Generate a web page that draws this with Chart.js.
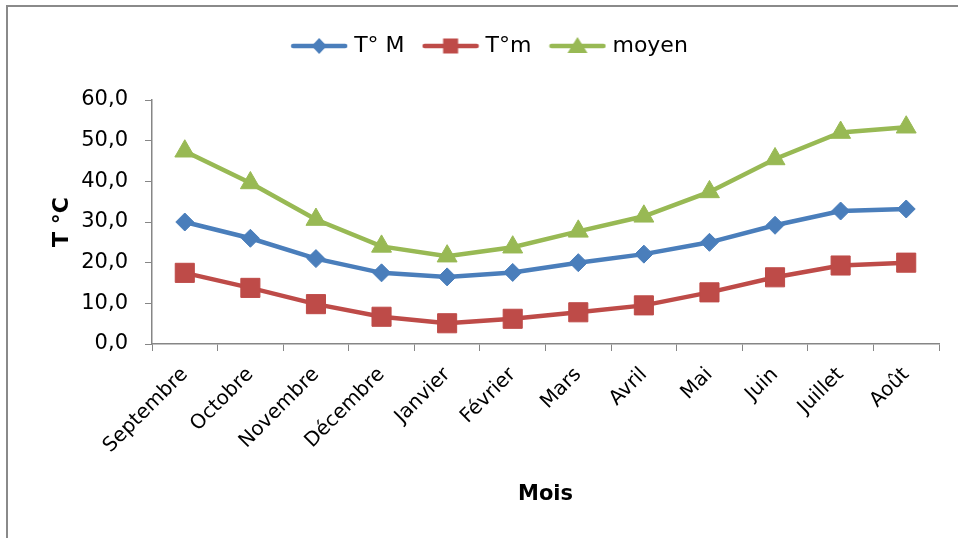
<!DOCTYPE html>
<html>
<head>
<meta charset="utf-8">
<script src="https://cdn.jsdelivr.net/npm/chart.js@4.4.1/dist/chart.umd.min.js"></script>
<style>
  body { margin: 0; background: #fff; overflow: hidden; }
  #wrap { position: relative; width: 958px; height: 538px; }
  #frame { position: absolute; left: 6px; top: 5px; width: 1000px; height: 600px;
           border-left: 2px solid #8a8a8a; border-top: 2px solid #8a8a8a; }
  canvas { position: absolute; left: 0; top: 0; }
</style>
</head>
<body>
<div id="wrap">
  <div id="frame"></div>
  <canvas id="myChart" width="958" height="538"></canvas>
</div>
<script>
const mois = ['Septembre', 'Octobre', 'Novembre', 'Décembre', 'Janvier', 'Février',
    'Mars', 'Avril', 'Mai', 'Juin', 'Juillet', 'Août'];

const tMax = [30.0, 26.0, 21.0, 17.5, 16.5, 17.6, 20.0, 22.1, 25.0, 29.2, 32.7, 33.2];
const tMin = [17.5, 13.8, 9.8, 6.7, 5.1, 6.2, 7.8, 9.5, 12.7, 16.4, 19.3, 20.0];
const moyen = [47.4, 39.6, 30.6, 24.0, 21.6, 23.8, 27.7, 31.4, 37.4, 45.5, 52.0, 53.3];

const yTicks = ['0,0', '10,0', '20,0', '30,0', '40,0', '50,0', '60,0'];

const blue = '#4a7ebb';
const red = '#be4b48';
const green = '#98b954';
const font = 'DejaVu Sans';

// legend sample: line with the marker in the middle
function legendIcon(color, shape) {
    const c = document.createElement('canvas');
    c.width = 58;
    c.height = 24;
    const g = c.getContext('2d');
    g.strokeStyle = color;
    g.fillStyle = color;
    g.lineWidth = 4.5;
    g.lineCap = 'round';
    g.beginPath();
    g.moveTo(3, 12);
    g.lineTo(55, 12);
    g.stroke();
    g.beginPath();
    if (shape === 'diamond') {
        g.moveTo(29, 4); g.lineTo(36.5, 12); g.lineTo(29, 20); g.lineTo(21.5, 12);
    } else if (shape === 'square') {
        g.rect(21.5, 4.5, 15, 15);
    } else {
        g.moveTo(29, 3); g.lineTo(39, 19); g.lineTo(19, 19);
    }
    g.closePath();
    g.fill();
    return c;
}

const data = {
    labels: mois,
    datasets: [{
        label: 'T° M',
        data: tMax,
        borderColor: blue,
        backgroundColor: blue,
        pointStyle: 'rectRot',
        pointRadius: 9,
        legendIcon: legendIcon(blue, 'diamond')
    }, {
        label: 'T°m',
        data: tMin,
        borderColor: red,
        backgroundColor: red,
        pointStyle: 'rect',
        pointRadius: 13.5,
        legendIcon: legendIcon(red, 'square')
    }, {
        label: 'moyen',
        data: moyen,
        borderColor: green,
        backgroundColor: green,
        pointStyle: 'triangle',
        pointRadius: 11.5,
        legendIcon: legendIcon(green, 'triangle')
    }]
};

// fixed legend height so the plot area lands where the original has it
const legendHeightPlugin = {
    id: 'legendHeight',
    beforeInit(chart) {
        const fit = chart.legend.fit;
        chart.legend.fit = function () {
            fit.call(this);
            this.height = 87;
        };
    }
};

const config = {
    type: 'line',
    data: data,
    options: {
        responsive: false,
        animation: false,
        layout: { padding: { top: 13, right: 19, left: 44, bottom: 0 } },
        elements: {
            line: { borderWidth: 4.5, tension: 0 },
            point: { borderWidth: 1, hoverRadius: 9 }
        },
        plugins: {
            tooltip: { enabled: false },
            legend: {
                position: 'top',
                labels: {
                    usePointStyle: true,
                    pointStyleWidth: 48,
                    boxHeight: 22,
                    padding: 22,
                    color: '#000',
                    font: { family: font, size: 22 },
                    generateLabels(chart) {
                        return chart.data.datasets.map((ds, i) => ({
                            text: ds.label,
                            pointStyle: ds.legendIcon,
                            fillStyle: ds.backgroundColor,
                            strokeStyle: ds.borderColor,
                            lineWidth: 0,
                            hidden: false,
                            datasetIndex: i,
                            fontColor: '#000'
                        }));
                    }
                }
            }
        },
        scales: {
            x: {
                offset: true,
                grid: { offset: true, drawOnChartArea: false, drawTicks: true, tickLength: 7, color: '#868686' },
                border: { color: '#868686', width: 1.5 },
                ticks: {
                    autoSkip: false,
                    minRotation: 45,
                    maxRotation: 45,
                    padding: 12,
                    color: '#000',
                    font: { family: font, size: 20 }
                },
                title: {
                    display: true,
                    text: 'Mois',
                    color: '#000',
                    font: { family: font, size: 21, weight: 'bold' },
                    padding: { top: 0, bottom: 31 }
                },
                afterFit(scale) { scale.height = 194; }
            },
            y: {
                min: 0,
                max: 60,
                grid: { drawOnChartArea: false, drawTicks: true, tickLength: 7, color: '#868686' },
                border: { color: '#868686', width: 1.5 },
                ticks: {
                    stepSize: 10,
                    padding: 17,
                    color: '#000',
                    font: { family: font, size: 21 },
                    callback: (value) => yTicks[value / 10]
                },
                title: {
                    display: true,
                    text: 'T °C',
                    color: '#000',
                    font: { family: font, size: 22, weight: 'bold' },
                    padding: { top: 5, bottom: 0 }
                },
                afterFit(scale) { scale.width = 108; }
            }
        }
    },
    plugins: [legendHeightPlugin]
};

const myChart = new Chart(document.getElementById('myChart'), config);
</script>
</body>
</html>
